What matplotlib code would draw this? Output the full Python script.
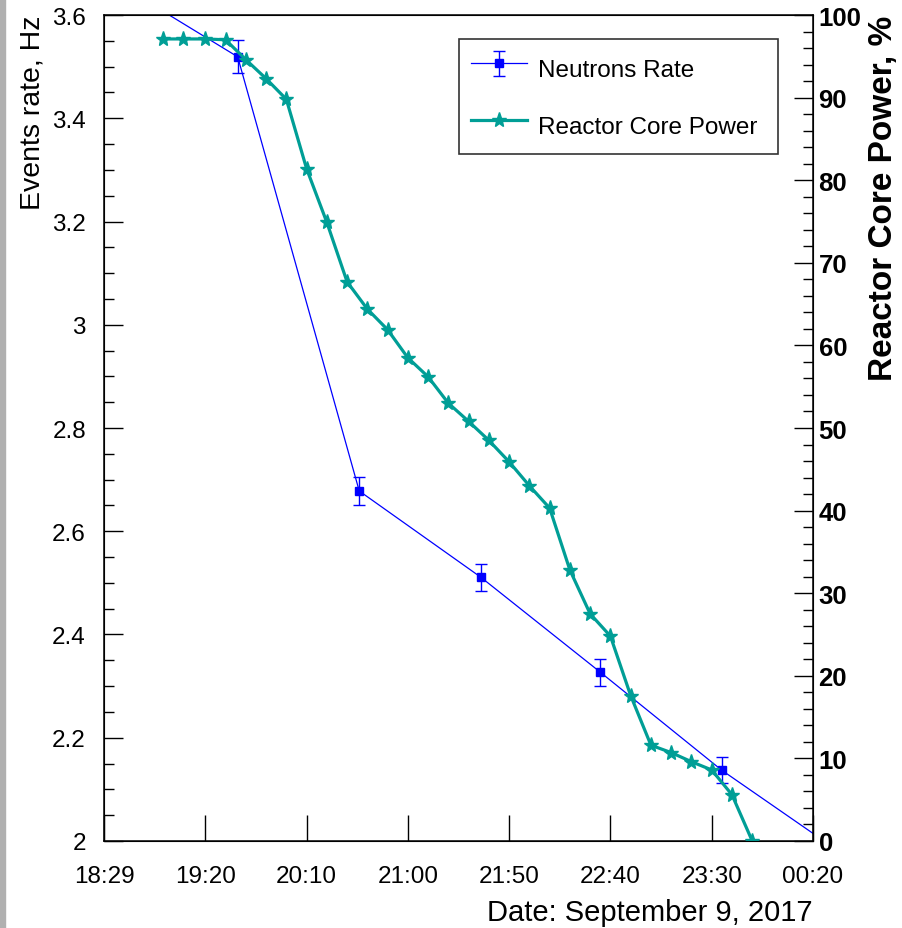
import matplotlib.pyplot as plt
from matplotlib.patches import Rectangle
from matplotlib.ticker import MultipleLocator, FuncFormatter

plt.rcParams['font.family'] = ['Liberation Sans', 'DejaVu Sans']

# x axis: minutes after 18:30, ticks every 50 min
tick_labels = ["18:29", "19:20", "20:10", "21:00", "21:50", "22:40", "23:30", "00:20"]

# neutron rate (first and last points fall outside the frame)
neutron_times = ["18:35", "19:36", "20:36", "21:36", "22:35", "23:35", "00:35"]
neutron_rate = [3.665, 3.519, 2.678, 2.511, 2.327, 2.137, 1.974]
neutron_err = [0.032, 0.032, 0.028, 0.026, 0.026, 0.025, 0.025]

# reactor core power, %
power_times = ["18:59", "19:09", "19:20", "19:30", "19:40", "19:50", "20:00",
               "20:10", "20:20", "20:30", "20:40", "20:50", "21:00", "21:10",
               "21:20", "21:30", "21:40", "21:50", "22:00", "22:10", "22:20",
               "22:30", "22:40", "22:50", "23:00", "23:10", "23:20", "23:30",
               "23:40", "23:50"]
power = [97.1, 97.1, 97.1, 97.0, 94.6, 92.3, 89.8, 81.4, 74.9, 67.7,
         64.4, 61.9, 58.5, 56.2, 53.0, 50.8, 48.5, 45.9, 43.0, 40.3,
         32.8, 27.5, 24.8, 17.6, 11.6, 10.7, 9.6, 8.6, 5.6, 0.0]

teal = '#009e96'


def minutes(t):
    h, m = map(int, t.split(":"))
    if h < 12:
        h += 24
    return (h - 18) * 60 + m - 30


fig = plt.figure(figsize=(9.02, 9.29), dpi=100)
fig.patches.append(Rectangle((0, 0), 5 / 902, 1, transform=fig.transFigure,
                             color='#b0b0b0', zorder=-1))
ax = fig.add_axes([104 / 902, 87 / 929, 709 / 902, 826 / 929])

nt = [minutes(t) for t in neutron_times]
h1 = ax.errorbar(nt, neutron_rate, yerr=neutron_err, color='blue', lw=0.9,
                 marker='s', ms=6, capsize=4, elinewidth=1, capthick=1,
                 label='Neutrons Rate')

ax.set_xlim(0, 350)
ax.set_ylim(2, 3.6)
ax.set_xticks(range(0, 351, 50))
ax.set_xticklabels(tick_labels)
ax.yaxis.set_major_locator(MultipleLocator(0.2))
ax.yaxis.set_minor_locator(MultipleLocator(0.05))
ax.yaxis.set_major_formatter(FuncFormatter(lambda v, p: '%g' % round(v, 2)))
ax.tick_params(axis='y', which='major', direction='in', length=13.5, width=1,
               labelsize=17.5, pad=13)
ax.tick_params(axis='y', which='minor', direction='in', length=7, width=1)
ax.tick_params(axis='x', direction='in', length=19, width=1, labelsize=17.5, pad=17)
for s in ax.spines.values():
    s.set_linewidth(1.1)

ax.set_ylabel("Events rate, Hz", loc='top', fontsize=20.5, labelpad=5)
ax.set_xlabel("Date: September 9, 2017", loc='right', fontsize=21, labelpad=8)

ax2 = ax.twinx()
pt = [minutes(t) for t in power_times]
h2, = ax2.plot(pt, power, color=teal, lw=2.3, marker='*', ms=11,
               label='Reactor Core Power')
ax2.set_ylim(0, 100)
ax2.yaxis.set_major_locator(MultipleLocator(10))
ax2.yaxis.set_minor_locator(MultipleLocator(2))
ax2.tick_params(axis='y', which='major', direction='in', length=14, width=1,
                labelsize=18.5, pad=4)
ax2.tick_params(axis='y', which='minor', direction='in', length=7, width=1)
for lbl in ax2.get_yticklabels():
    lbl.set_fontweight('bold')
ax2.set_ylabel("Reactor Core Power, %", loc='top', fontsize=24,
               fontweight='bold', labelpad=5)

leg = ax2.legend([h1, h2], ['Neutrons Rate', 'Reactor Core Power'],
                 loc='upper left',
                 bbox_to_anchor=(459 / 902, 1 - 152 / 929, 319 / 902, 112 / 929),
                 bbox_transform=fig.transFigure, borderaxespad=0, mode='expand',
                 fontsize=17.5, frameon=True, fancybox=False, borderpad=0.5,
                 labelspacing=0.95, handleheight=1.75, handlelength=2.3,
                 handletextpad=0.45)
leg.get_frame().set_edgecolor('black')
leg.get_frame().set_linewidth(1.2)

fig.savefig('out.png', dpi=100)
